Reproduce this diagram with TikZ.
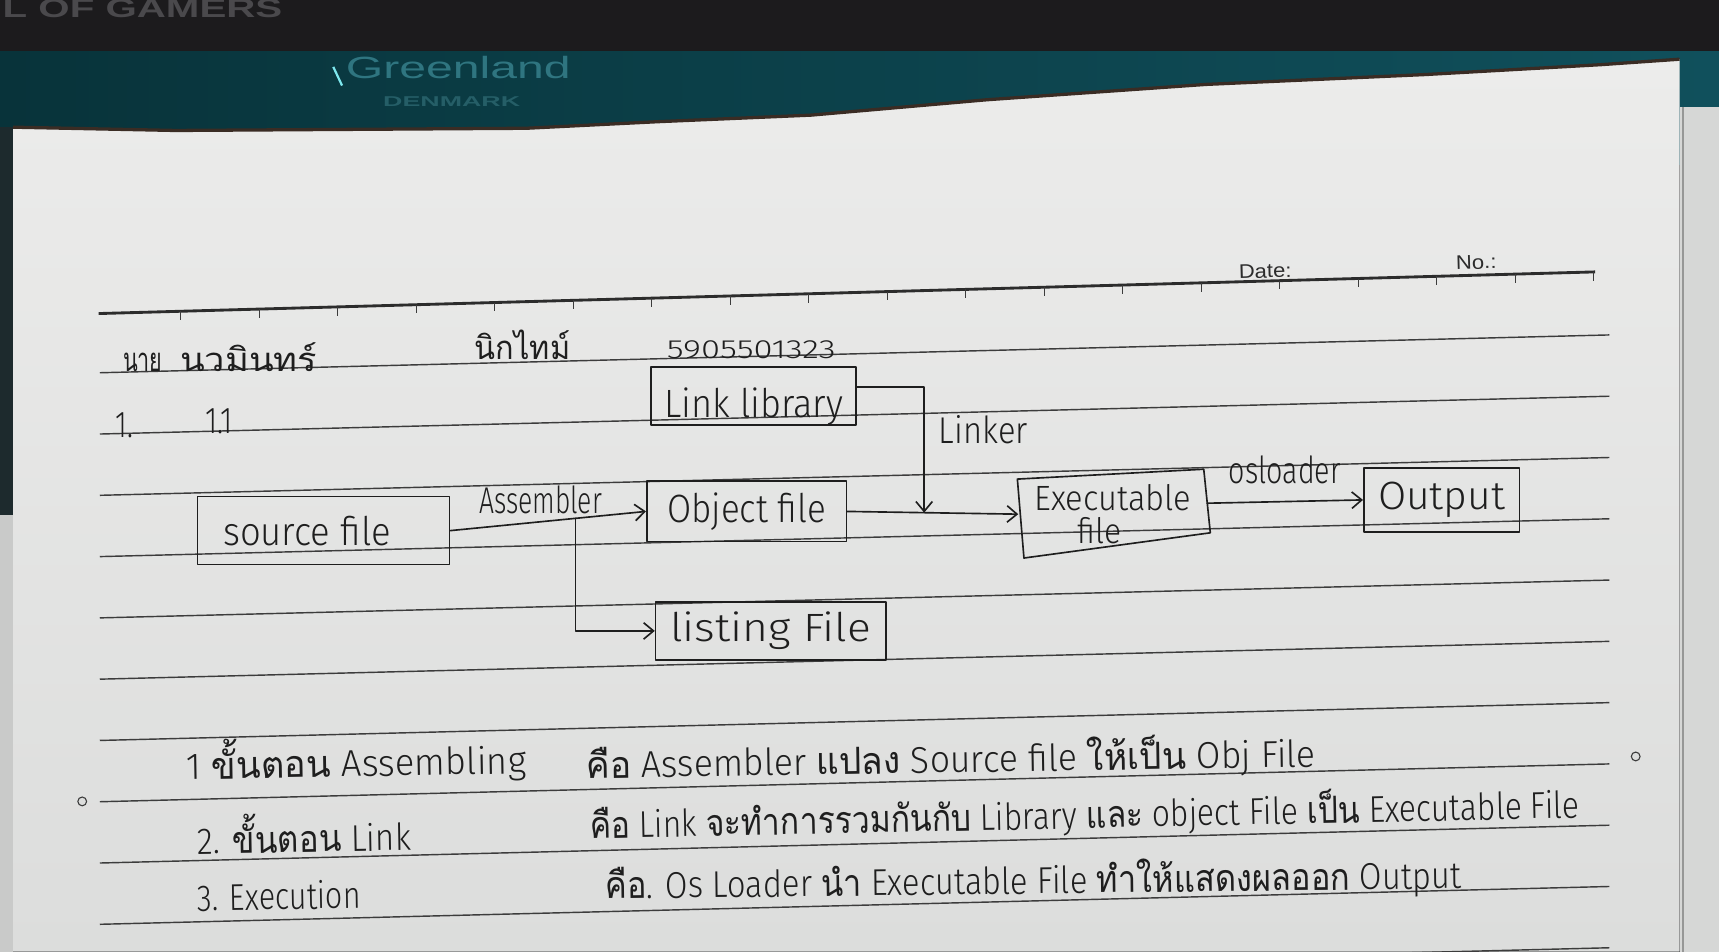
\documentclass[tikz,border=0pt]{standalone}
\usepackage{fontspec}
\usepackage{graphicx}
\setmainfont{Fira Sans}[UprightFont={* Light}]
\newfontfamily\printfont{Liberation Sans}
\newfontfamily\thaifont[Script=Thai]{Loma}
\usetikzlibrary{arrows.meta,calc}

\definecolor{deskdark}{HTML}{1C1B1D}
\definecolor{tealdark}{HTML}{08333A}
\definecolor{teallight}{HTML}{10505C}
\definecolor{papertop}{HTML}{ECECEB}
\definecolor{paperbot}{HTML}{DCDDDC}
\definecolor{sheet}{HTML}{D6D7D6}
\definecolor{sheetgap}{HTML}{969796}
\definecolor{edgedark}{HTML}{1D2A2D}
\definecolor{edgelight}{HTML}{C9CAC9}
\definecolor{papershadow}{HTML}{3A2C24}
\definecolor{glint}{HTML}{7EE8EF}
\definecolor{inkc}{HTML}{1E1E1E}
\definecolor{rulec}{HTML}{3C3C3C}
\definecolor{printc}{HTML}{2C2C2C}
\definecolor{fadedgrey}{HTML}{4A494C}
\definecolor{fadedteal}{HTML}{2F7580}

% squeeze or stretch a piece of text to a given width (in pt)
\newcommand\fitw[2]{\resizebox{#1pt}{\height}{#2}}
\newcommand\thx[1]{{\thaifont #1}}

\tikzset{
  pen/.style={draw=inkc, line width=1.5pt, line cap=round, line join=round},
  filebox/.style={pen, rectangle, inner sep=0pt, text=inkc, font=\fontsize{36}{36}\selectfont},
  flow/.style={pen, -{Straight Barb[length=9pt,width=15pt]}},
  tag/.style={text=inkc, inner sep=0pt, font=\fontsize{34}{34}\selectfont},
  noteline/.style={tag, anchor=base west},
  ruled/.style={draw=rulec, line width=1.3pt},
  printed/.style={text=printc, inner sep=0pt, font=\printfont\fontsize{18}{18}\selectfont, anchor=base west},
  hole/.style={circle, draw=rulec, fill=paperbot, line width=1pt, minimum size=8pt, inner sep=0pt},
}

\begin{document}
\begin{tikzpicture}[x=1pt,y=-1pt]
\useasboundingbox (0,0) rectangle (1568,868);
\clip (0,0) rectangle (1568,868);

% desk and the teal board behind the sheet
\fill[deskdark] (0,0) rectangle (1568,868);
\shade[left color=tealdark, right color=teallight] (0,47) rectangle (1568,150);
\node[font=\printfont\bfseries\fontsize{24}{24}\selectfont, text=fadedgrey, inner sep=0pt] (brand) at (130,8) {\fitw{255}{L OF GAMERS}};
\node[font=\printfont\fontsize{28}{28}\selectfont, text=fadedteal, inner sep=0pt] (board) at (418,62) {\fitw{205}{Greenland}};
\node[font=\printfont\bfseries\fontsize{13}{13}\selectfont, text=fadedteal!80!black, inner sep=0pt] (boardsub) at (412,93) {\fitw{125}{DENMARK}};
\draw[draw=glint, line width=2pt] (304,61) -- (312,78);

% edges around the sheet
\fill[edgedark] (0,116) rectangle (12,470);
\fill[edgelight] (0,470) rectangle (12,868);
\fill[sheet] (1532,98) rectangle (1568,868);
\draw[draw=sheetgap, line width=1.5pt] (1535,98) -- (1535,868);

% the note sheet
\shade[top color=papertop, bottom color=paperbot]
  (12,116) -- (160,119) -- (480,117) -- (600,111) -- (740,105) -- (900,91)
  -- (1100,77) -- (1300,68) -- (1460,59) -- (1532,54) -- (1532,868) -- (12,868) -- cycle;
\draw[draw=papershadow, line width=3pt]
  (12,116) -- (160,119) -- (480,117) -- (600,111) -- (740,105) -- (900,91)
  -- (1100,77) -- (1300,68) -- (1460,59) -- (1532,54);

% printed header rule with its ticks
\draw[draw=printc, line width=2.6pt] (90,286) -- (1455,248);
\foreach \t in {0,...,18}{
  \pgfmathsetmacro\tx{165+71.6*\t}
  \pgfmathsetmacro\ty{286-0.0278*(\tx-90)}
  \draw[ruled, line width=1pt] (\tx,\ty) -- ++(0,8);
}
\node[printed, rotate=1.6] (date) at (1130,254) {\fitw{48}{Date:}};
\node[printed, rotate=1.6] (num) at (1328,246) {\fitw{37}{No.:}};

% ruled writing lines
\foreach \k in {0,...,10}{
  \pgfmathsetmacro\ya{340+55.9*\k}
  \pgfmathsetmacro\yb{\ya-34.5}
  \draw[ruled] (91,\ya) -- (1468,\yb);
}
\node[hole] (holeL) at (75,731) {};
\node[hole] (holeR) at (1492,690) {};

% name, nickname and student id
\node[noteline, font=\thaifont\fontsize{30}{30}\selectfont] (title) at (112,339) {\fitw{36}{นาย}};
\node[noteline, font=\thaifont\fontsize{30}{30}\selectfont] (fname) at (164,339) {\fitw{125}{นวมินทร์}};
\node[noteline, font=\thaifont\fontsize{30}{30}\selectfont] (nick) at (433,328) {\fitw{87}{นิกไทม์}};
\node[noteline, font=\fontsize{24}{24}\selectfont] (sid) at (608,327) {\fitw{154}{5905501323}};
\node[noteline] (q1) at (105,399) {\fitw{16}{1.}};
\node[noteline] (q11) at (187,395) {\fitw{25}{1.1}};

% file boxes
\node[filebox, minimum width=230pt, minimum height=62pt] (src) at (295,484) {\fitw{153}{source file}\hspace*{30pt}};
\node[filebox, minimum width=187pt, minimum height=53pt] (lib) at (687.5,361) {\raisebox{-10pt}[\height][\depth]{\fitw{163}{Link library}}};
\node[filebox, minimum width=182pt, minimum height=55pt] (obj) at (681,466.5) {\fitw{145}{Object file}};
\node[filebox, minimum width=210pt, minimum height=53pt] (lst) at (703,575.5) {\fitw{183}{listing File}};
\node[tag, align=center, minimum width=172pt, minimum height=72pt, font=\fontsize{32}{30}\selectfont] (exe) at (1015,469)
  {\fitw{143}{Executable}\\\fitw{40}{file}\hspace*{24pt}};
\draw[pen] (928,437) -- (1098,428) -- (1104,486) -- (934,509) -- cycle;
\node[filebox, minimum width=142pt, minimum height=58pt] (out) at (1315,456) {\fitw{116}{Output}};

% tool names over the arrows
\node[tag] (lasm) at (493,456) {\fitw{112}{Assembler}};
\node[tag] (llink) at (897,392) {\fitw{81}{Linker}};
\node[tag] (los) at (1172,429) {\fitw{102}{osloader}};

% flow of the build
\coordinate (br) at ($(src.east)!0.64!(obj.west)$);
\coordinate (mrg) at ($(obj.east)!0.45!(exe.west)$);
\draw[flow] (src.east) -- (obj.west);
\draw[flow] (br) |- (lst.west);
\draw[flow] (obj.east) -- (exe.west);
\draw[flow] ([yshift=8pt]lib.east) -| (mrg);
\draw[flow] ([yshift=10pt]exe.east) -- (out.west);

% the three steps written out
\node[noteline, rotate=1] (stepA) at (170,711) {\fitw{310}{1 \thx{ขั้นตอน} Assembling}};
\node[noteline, rotate=0.9] (descA) at (535,710) {\fitw{665}{\thx{คือ} Assembler \thx{แปลง} Source file \thx{ให้เป็น} Obj File}};
\node[noteline, rotate=1] (stepB) at (180,779) {\fitw{195}{2. \thx{ขั้นตอน} Link}};
\node[noteline, rotate=1.2] (descB) at (538,765) {\fitw{903}{\thx{คือ} Link \thx{จะทำการรวมกันกับ} Library \thx{และ} object File \thx{เป็น} Executable File}};
\node[noteline, rotate=1] (stepC) at (180,831) {\fitw{149}{3. Execution}};
\node[noteline, rotate=0.7] (descC) at (552,820) {\fitw{781}{\thx{คือ}. Os Loader \thx{นำ} Executable File \thx{ทำให้แสดงผลออก} Output}};
\end{tikzpicture}
\end{document}
